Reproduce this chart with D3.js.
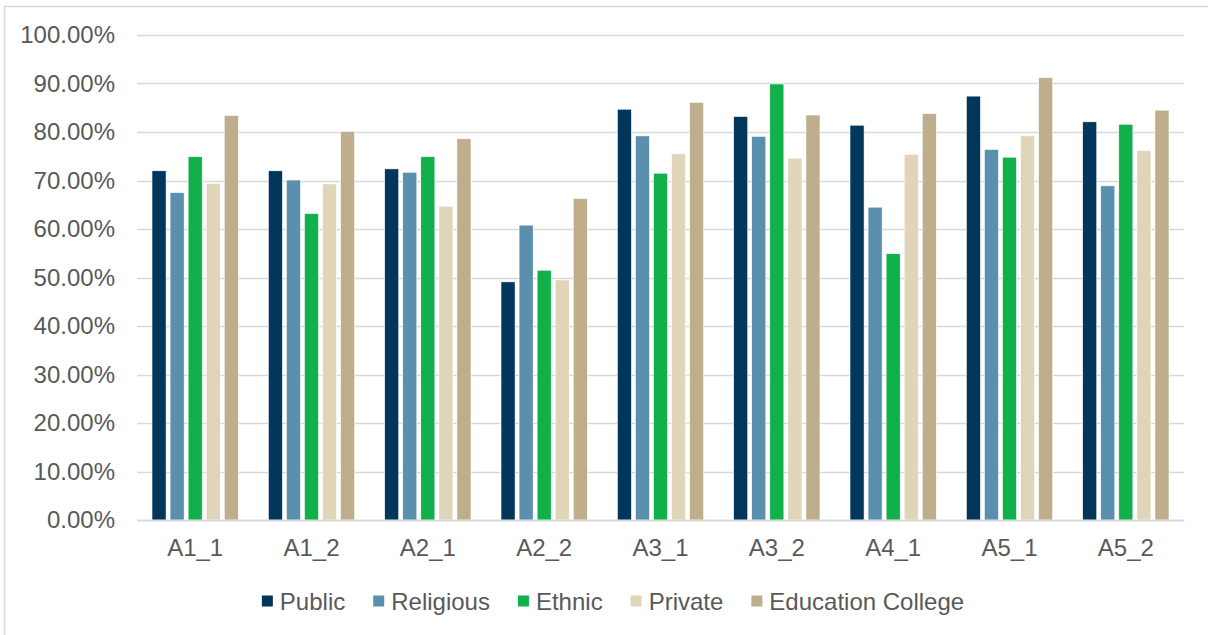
<!DOCTYPE html>
<html>
<head>
<meta charset="utf-8">
<script src="https://cdn.jsdelivr.net/npm/d3@7"></script>
<style>
  html, body { margin: 0; padding: 0; background: #fff; }
  svg { display: block; }
  text { font-family: "Liberation Sans", Arial, sans-serif; fill: #595959; }
</style>
</head>
<body>
<svg width="1208" height="635"></svg>
<script>
const width = 1208;
const height = 635;

// Data
const categories = ['A1_1', 'A1_2', 'A2_1', 'A2_2', 'A3_1', 'A3_2', 'A4_1', 'A5_1', 'A5_2'];
const seriesNames = ['Public', 'Religious', 'Ethnic', 'Private', 'Education College'];
const seriesColors = ['#02375b', '#5a8fae', '#12b04b', '#e0d5b8', '#bfae8b'];
const publicVals    = [72.0, 72.0, 72.4, 49.1, 84.7, 83.2, 81.4, 87.4, 82.1];
const religiousVals = [67.5, 70.1, 71.7, 60.8, 79.2, 79.1, 64.5, 76.4, 68.9];
const ethnicVals    = [74.9, 63.2, 74.9, 51.5, 71.5, 89.9, 54.9, 74.8, 81.6];
const privateVals   = [69.4, 69.3, 64.7, 49.5, 75.5, 74.6, 75.4, 79.2, 76.2];
const collegeVals   = [83.4, 80.1, 78.6, 66.3, 86.1, 83.5, 83.8, 91.2, 84.5];
const yTicks = [0, 10, 20, 30, 40, 50, 60, 70, 80, 90, 100];

const seriesValues = [publicVals, religiousVals, ethnicVals, privateVals, collegeVals];

const plot = { left: 137, right: 1184, top: 35, bottom: 520 };
const fontSize = 24;

const svg = d3.select('svg');

// outer chart border (only top/left fall inside the picture)
svg.append('rect')
    .attr('x', 4.5).attr('y', 6.5)
    .attr('width', 1220).attr('height', 650)
    .attr('fill', 'none')
    .attr('stroke', '#d9d9d9')
    .attr('stroke-width', 1.5);

const x0 = d3.scaleBand()
    .domain(categories)
    .range([plot.left, plot.right]);

const x1 = d3.scaleBand()
    .domain(seriesNames)
    .range([15, x0.bandwidth() - 15])
    .paddingInner(0.22);

const y = d3.scaleLinear()
    .domain([0, 100])
    .range([plot.bottom, plot.top]);

// gridlines
svg.append('g')
    .selectAll('line')
    .data(yTicks)
    .enter().append('line')
    .attr('x1', plot.left)
    .attr('x2', plot.right)
    .attr('y1', d => Math.round(y(d)) + 0.5)
    .attr('y2', d => Math.round(y(d)) + 0.5)
    .attr('stroke', '#d9d9d9')
    .attr('stroke-width', 1.5);

// y-axis labels
const yAxis = d3.axisLeft(y)
    .tickValues(yTicks)
    .tickSize(0)
    .tickPadding(0)
    .tickFormat(d => d.toFixed(2) + '%');

svg.append('g')
    .attr('transform', `translate(115, 0)`)
    .call(yAxis)
    .call(g => g.select('.domain').remove())
    .selectAll('text')
    .attr('font-family', '"Liberation Sans", Arial, sans-serif')
    .attr('font-size', fontSize)
    .attr('fill', '#595959');

// bars
const groups = svg.append('g')
    .selectAll('g')
    .data(categories)
    .enter().append('g')
    .attr('transform', d => `translate(${x0(d)}, 0)`);

groups.selectAll('rect')
    .data((c, i) => seriesNames.map((s, j) => ({ series: s, idx: j, value: seriesValues[j][i] })))
    .enter().append('rect')
    .attr('x', d => x1(d.series))
    .attr('width', x1.bandwidth())
    .attr('y', d => y(d.value))
    .attr('height', d => y(0) - y(d.value))
    .attr('fill', d => seriesColors[d.idx])
    .attr('stroke', '#ffffff')
    .attr('stroke-width', 0.6);

// category axis
const xAxis = d3.axisBottom(x0).tickSize(0).tickPadding(0);
svg.append('g')
    .attr('transform', `translate(0, ${plot.bottom})`)
    .call(xAxis)
    .call(g => g.select('.domain')
        .attr('stroke', '#d9d9d9')
        .attr('stroke-width', 1.5))
    .selectAll('text')
    .attr('font-family', '"Liberation Sans", Arial, sans-serif')
    .attr('font-size', fontSize)
    .attr('fill', '#595959')
    .attr('dy', '1.5em');

// legend
const legend = svg.append('g');
const items = legend.selectAll('g')
    .data(seriesNames)
    .enter().append('g');

items.append('rect')
    .attr('width', 11)
    .attr('height', 11)
    .attr('y', -5.5)
    .attr('fill', (d, i) => seriesColors[i]);

items.append('text')
    .attr('x', 18)
    .attr('dy', '0.36em')
    .attr('font-size', fontSize)
    .text(d => d);

let offset = 0;
items.each(function() {
    const g = d3.select(this);
    const w = 18 + g.select('text').node().getComputedTextLength();
    g.attr('transform', `translate(${offset}, 0)`);
    offset += w + 28;
});
const legendWidth = offset - 28;
legend.attr('transform', `translate(${613 - legendWidth / 2}, 601)`);
</script>
</body>
</html>
